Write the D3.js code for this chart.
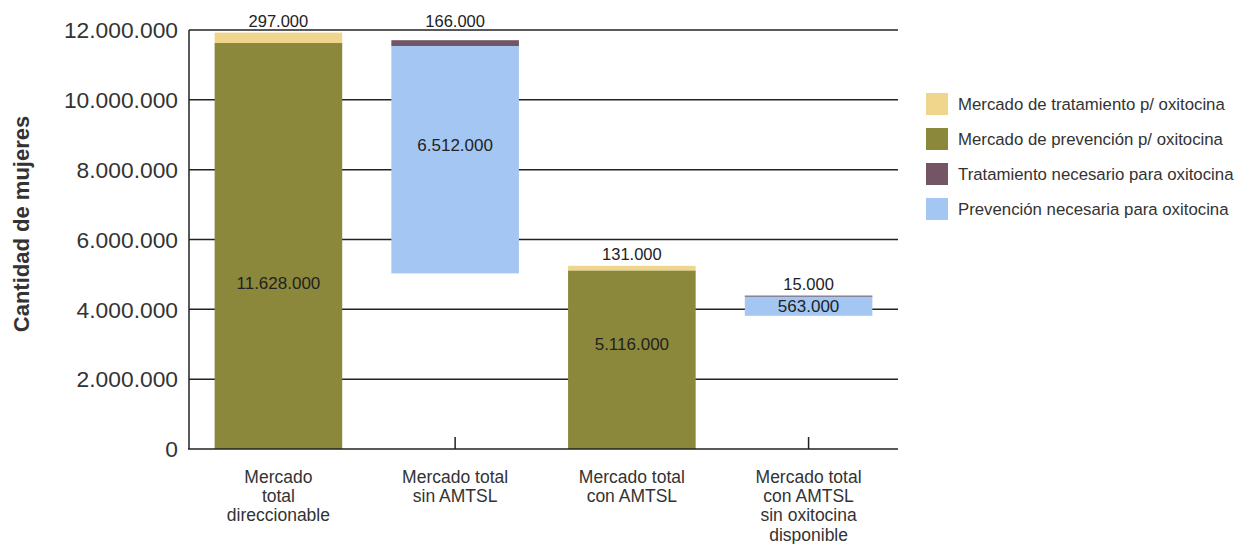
<!DOCTYPE html>
<html>
<head>
<meta charset="utf-8">
<script src="https://cdn.jsdelivr.net/npm/d3@7"></script>
<style>
  html, body { margin: 0; padding: 0; background: #fff; }
  svg { display: block; font-family: "Liberation Sans", Arial, sans-serif; }
</style>
</head>
<body>
<svg id="chart" width="1243" height="544"></svg>
<script>
// Categories (one line per array entry)
const categories = [
  ["Mercado", "total", "direccionable"],
  ["Mercado total", "sin AMTSL"],
  ["Mercado total", "con AMTSL"],
  ["Mercado total", "con AMTSL", "sin oxitocina", "disponible"]
];

// Floating base of each column (waterfall offset)
const baseValues = [0, 5030000, 0, 3815000];

// Series values
const mercadoPrevencion   = [11628000, 0, 5116000, 0];
const prevencionNecesaria = [0, 6512000, 0, 563000];
const mercadoTratamiento  = [297000, 0, 131000, 0];
const tratamientoNecesario = [0, 166000, 0, 15000];

const yTicks = [0, 2000000, 4000000, 6000000, 8000000, 10000000, 12000000];

const seriesNames = {
  mercadoTratamiento: "Mercado de tratamiento p/ oxitocina",
  mercadoPrevencion: "Mercado de prevención p/ oxitocina",
  tratamientoNecesario: "Tratamiento necesario para oxitocina",
  prevencionNecesaria: "Prevención necesaria para oxitocina"
};
const colors = {
  mercadoTratamiento: "#F0D68C",
  mercadoPrevencion: "#8B883C",
  tratamientoNecesario: "#735565",
  prevencionNecesaria: "#A3C7F2"
};

// Vertical position of the value label inside the big segment (share of its height)
const innerLabelShare = [0.41, 0.565, 0.59, 0.5];

const fmt = v => d3.format(",")(v).replace(/,/g, ".");

const svg = d3.select("#chart");
const plotLeft = 189, plotRight = 898, plotTop = 30, plotBottom = 449;

const x = d3.scaleBand()
  .domain(d3.range(categories.length))
  .range([plotLeft, plotRight])
  .paddingInner(0.278)
  .paddingOuter(0.145);

const y = d3.scaleLinear().domain([0, 12000000]).range([plotBottom, plotTop]);

// Gridlines
svg.append("g").selectAll("line").data(yTicks.filter(d => d > 0)).join("line")
  .attr("x1", plotLeft).attr("x2", plotRight)
  .attr("y1", d => y(d)).attr("y2", d => y(d))
  .attr("stroke", "#222").attr("stroke-width", 1.5);

// Category ticks (pointing up from the baseline)
svg.append("g").selectAll("line").data(d3.range(categories.length)).join("line")
  .attr("x1", i => x(i) + x.bandwidth() / 2).attr("x2", i => x(i) + x.bandwidth() / 2)
  .attr("y1", plotBottom).attr("y2", plotBottom - 12)
  .attr("stroke", "#222").attr("stroke-width", 1.5);

// Stacked segments, bottom to top
const rows = d3.range(categories.length).map(i => ({
  mercadoPrevencion: mercadoPrevencion[i],
  prevencionNecesaria: prevencionNecesaria[i],
  mercadoTratamiento: mercadoTratamiento[i],
  tratamientoNecesario: tratamientoNecesario[i]
}));
const keys = ["mercadoPrevencion", "prevencionNecesaria", "mercadoTratamiento", "tratamientoNecesario"];
const stacked = d3.stack().keys(keys)(rows);

const gBars = svg.append("g");
stacked.forEach(layer => {
  const segs = layer.map((d, i) => ({ i, y0: baseValues[i] + d[0], y1: baseValues[i] + d[1] }))
    .filter(s => s.y1 > s.y0);
  gBars.selectAll(null).data(segs).join("rect")
    .attr("x", s => x(s.i))
    .attr("width", x.bandwidth())
    .attr("y", s => y(s.y1))
    .attr("height", s => Math.max(1, y(s.y0) - y(s.y1)))
    .attr("fill", colors[layer.key]);
});

// Axis lines
svg.append("line").attr("x1", plotLeft).attr("x2", plotLeft).attr("y1", plotTop).attr("y2", plotBottom)
  .attr("stroke", "#222").attr("stroke-width", 1.5);
svg.append("line").attr("x1", plotLeft - 1).attr("x2", plotRight).attr("y1", plotBottom).attr("y2", plotBottom)
  .attr("stroke", "#222").attr("stroke-width", 1.5);

// Y tick labels
svg.append("g").selectAll("text").data(yTicks).join("text")
  .attr("x", 178).attr("y", d => y(d))
  .attr("dy", "0.36em")
  .attr("text-anchor", "end")
  .attr("font-size", 22.8).attr("fill", "#333")
  .text(d => fmt(d));

// Y axis title
svg.append("text")
  .attr("transform", "translate(29,224) rotate(-90)")
  .attr("text-anchor", "middle")
  .attr("font-size", 22).attr("font-weight", "bold").attr("fill", "#333")
  .text("Cantidad de mujeres");

// Category labels
const gCat = svg.append("g");
categories.forEach((lines, i) => {
  const t = gCat.append("text")
    .attr("text-anchor", "middle")
    .attr("font-size", 17.5).attr("fill", "#333");
  lines.forEach((ln, j) => {
    t.append("tspan")
      .attr("x", x(i) + x.bandwidth() / 2)
      .attr("y", 482.5 + j * 19.4)
      .text(ln);
  });
});

// Value labels
const gLab = svg.append("g").attr("font-size", 16.5).attr("fill", "#222").attr("text-anchor", "middle");
d3.range(categories.length).forEach(i => {
  const cx = x(i) + x.bandwidth() / 2;
  const bigVal = mercadoPrevencion[i] || prevencionNecesaria[i];
  const smallVal = mercadoTratamiento[i] || tratamientoNecesario[i];
  const total = baseValues[i] + bigVal + smallVal;
  // inner label of the large segment
  gLab.append("text")
    .attr("x", cx)
    .attr("y", y(baseValues[i] + bigVal * innerLabelShare[i]))
    .attr("dy", "0.36em")
    .attr("font-size", 17)
    .text(fmt(bigVal));
  // label of the thin top segment; the first drop shares the row of the starting total
  const level = (i === 1) ? baseValues[0] + mercadoPrevencion[0] + mercadoTratamiento[0] : total;
  gLab.append("text")
    .attr("x", cx)
    .attr("y", y(level) - 6)
    .text(fmt(smallVal));
});

// Legend
const legendKeys = ["mercadoTratamiento", "mercadoPrevencion", "tratamientoNecesario", "prevencionNecesaria"];
const gLeg = svg.append("g");
legendKeys.forEach((k, i) => {
  gLeg.append("rect").attr("x", 926).attr("y", 93 + i * 35).attr("width", 22).attr("height", 22)
    .attr("fill", colors[k]);
  gLeg.append("text").attr("x", 958).attr("y", 104 + i * 35).attr("dy", "0.36em")
    .attr("font-size", 16.8).attr("fill", "#333")
    .text(seriesNames[k]);
});
</script>
</body>
</html>
